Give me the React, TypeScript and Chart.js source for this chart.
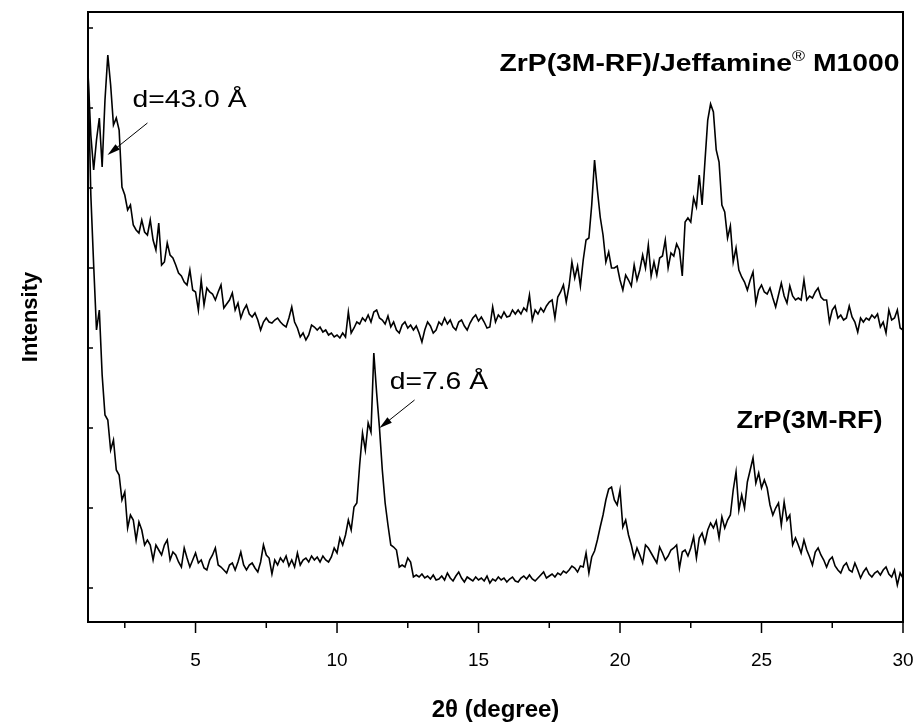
import { useEffect, useRef } from "react";
import { Chart, registerables, type Plugin } from "chart.js";

Chart.register(...registerables);
Chart.defaults.font.family = "Arial, 'Liberation Sans', sans-serif";

// scan grid of the diffractometer (2θ, degrees)
const SCAN_START = 1.2;
const SCAN_STEP = 0.1;

// ZrP(3M-RF)/Jeffamine M1000, counts (a.u.)
const jeffamineCounts = [
  515, 453, 418, 448, 470, 421, 488, 533, 503,
  463, 470, 458, 401, 393, 378, 383, 363, 358, 355,
  368, 356, 353, 368, 348, 338, 365, 323, 326, 345,
  333, 330, 323, 315, 312, 306, 303, 318, 298, 296,
  278, 308, 283, 300, 296, 294, 288, 296, 303, 280,
  284, 288, 295, 278, 285, 270, 278, 283, 274, 271,
  275, 268, 258, 266, 270, 266, 265, 268, 270, 266,
  263, 261, 270, 281, 266, 260, 251, 255, 248, 253,
  263, 261, 258, 261, 256, 258, 253, 255, 251, 253,
  250, 255, 251, 276, 255, 260, 266, 264, 270, 267,
  273, 266, 276, 278, 270, 268, 264, 272, 261, 266,
  258, 255, 263, 266, 260, 263, 258, 262, 255, 246,
  258, 266, 262, 255, 258, 266, 263, 270, 264, 268,
  261, 258, 266, 268, 262, 258, 265, 270, 273, 267,
  271, 266, 260, 261, 281, 266, 273, 270, 276, 271,
  272, 278, 274, 278, 274, 280, 277, 293, 268, 278,
  274, 280, 276, 282, 286, 288, 270, 291, 296, 303,
  286, 302, 326, 310, 322, 302, 328, 348, 350, 383,
  428, 398, 371, 353, 326, 336, 320, 320, 322, 308,
  298, 313, 308, 302, 323, 308, 318, 333, 320, 343,
  312, 326, 313, 330, 332, 348, 320, 335, 332, 344,
  338, 312, 366, 370, 366, 390, 381, 413, 383, 426,
  468, 484, 476, 438, 426, 383, 376, 350, 362, 326,
  340, 318, 311, 306, 298, 308, 316, 285, 298, 303,
  296, 294, 300, 290, 281, 293, 305, 292, 285, 302,
  292, 288, 290, 288, 308, 288, 292, 290, 296, 300,
  291, 288, 288, 266, 278, 282, 270, 273, 268, 270,
  282, 271, 266, 256, 270, 266, 270, 268, 273, 270,
  274, 261, 266, 255, 278, 268, 270, 278, 260, 258,
];

// ZrP(3M-RF), counts (a.u.)
const pristineCounts = [
  518, 393, 323, 258, 278, 213, 173, 168, 138,
  148, 118, 113, 88, 96, 60, 73, 68, 48, 66,
  58, 43, 48, 43, 28, 43, 38, 33, 43, 48,
  28, 36, 33, 26, 21, 40, 30, 21, 28, 35,
  25, 28, 20, 18, 28, 33, 40, 23, 21, 18,
  15, 23, 25, 18, 26, 36, 23, 18, 23, 25,
  20, 16, 26, 43, 33, 30, 14, 28, 23, 30,
  26, 32, 22, 28, 21, 35, 23, 28, 30, 26,
  32, 28, 31, 26, 32, 28, 26, 31, 40, 35,
  50, 43, 53, 68, 58, 81, 85, 123, 155, 138,
  165, 156, 235, 195, 160, 118, 85, 63, 43, 41,
  38, 21, 23, 21, 30, 26, 11, 13, 11, 14,
  10, 12, 9, 13, 8, 9, 12, 8, 15, 10,
  7, 12, 16, 10, 6, 11, 9, 7, 11, 8,
  10, 7, 12, 5, 9, 7, 11, 8, 10, 6,
  9, 11, 7, 6, 10, 12, 9, 13, 9, 7,
  10, 13, 16, 10, 12, 14, 11, 15, 13, 17,
  15, 18, 22, 20, 16, 22, 21, 35, 15, 31,
  37, 48, 61, 73, 88, 99, 101, 88, 83, 98,
  61, 68, 53, 43, 30, 40, 33, 25, 43, 40,
  35, 30, 25, 41, 35, 28, 32, 38, 40, 43,
  20, 36, 38, 32, 40, 51, 30, 50, 55, 45,
  58, 65, 60, 67, 50, 71, 60, 68, 73, 98,
  116, 78, 93, 80, 106, 118, 130, 105, 115, 100,
  108, 100, 83, 73, 80, 85, 63, 86, 68, 73,
  43, 50, 43, 35, 48, 38, 31, 23, 36, 40,
  33, 28, 21, 28, 31, 22, 18, 15, 22, 25,
  18, 16, 25, 18, 10, 16, 20, 14, 11, 15,
  17, 13, 18, 21, 14, 11, 18, 3, 15, 10,
];

const twoTheta = jeffamineCounts.map((_, i) => Number((SCAN_START + i * SCAN_STEP).toFixed(1)));

const xMajorTicks = [5, 10, 15, 20, 25, 30];
const xMinorTicks = [2.5, 7.5, 12.5, 17.5, 22.5, 27.5];
const yMajorTicks = [0, 80, 160, 240, 320, 400, 480, 560];

// d-spacing notes (data coordinates)
const dNotes = [
  { text: "d=43.0 Å", x: 2.77, y: 481, fromX: 3.3, fromY: 465, toX: 1.89, toY: 433 },
  { text: "d=7.6 Å", x: 11.86, y: 199, fromX: 12.74, fromY: 188, toX: 11.5, toY: 160 },
];

type Run = { text: string; font: string; dy?: number };

// the original figure's lettering is a bit wider than Arial
function drawRuns(
  ctx: CanvasRenderingContext2D,
  runs: Run[],
  x: number,
  y: number,
  align: "left" | "right",
  stretch: number,
) {
  let total = 0;
  for (const r of runs) {
    ctx.font = r.font;
    total += ctx.measureText(r.text).width;
  }
  const start = align === "right" ? x - total * stretch : x;
  ctx.save();
  ctx.translate(start, y);
  ctx.scale(stretch, 1);
  ctx.textBaseline = "alphabetic";
  ctx.textAlign = "left";
  let off = 0;
  for (const r of runs) {
    ctx.font = r.font;
    ctx.fillText(r.text, off, r.dy ?? 0);
    off += ctx.measureText(r.text).width;
  }
  ctx.restore();
}

const xrdDecor: Plugin<"line"> = {
  id: "xrdDecor",
  afterDraw(chart) {
    const { ctx, chartArea: a } = chart;
    const xs = chart.scales.x;
    const ys = chart.scales.y;
    ctx.save();
    ctx.strokeStyle = "#000";
    ctx.fillStyle = "#000";

    ctx.lineWidth = 2;
    ctx.strokeRect(a.left, a.top, a.right - a.left, a.bottom - a.top);

    ctx.lineWidth = 1.5;
    ctx.beginPath();
    for (const v of xMajorTicks) {
      const px = xs.getPixelForValue(v);
      ctx.moveTo(px, a.bottom);
      ctx.lineTo(px, a.bottom + 11);
    }
    for (const v of xMinorTicks) {
      const px = xs.getPixelForValue(v);
      ctx.moveTo(px, a.bottom);
      ctx.lineTo(px, a.bottom + 6);
    }
    for (const v of yMajorTicks) {
      const py = ys.getPixelForValue(v);
      ctx.moveTo(a.left, py);
      ctx.lineTo(a.left + 5, py);
    }
    ctx.stroke();

    // d-spacing notes with arrows
    for (const n of dNotes) {
      drawRuns(
        ctx,
        [{ text: n.text, font: "24px Arial, 'Liberation Sans', sans-serif" }],
        xs.getPixelForValue(n.x),
        ys.getPixelForValue(n.y),
        "left",
        1.18,
      );
      const x0 = xs.getPixelForValue(n.fromX);
      const y0 = ys.getPixelForValue(n.fromY);
      const x1 = xs.getPixelForValue(n.toX);
      const y1 = ys.getPixelForValue(n.toY);
      const ang = Math.atan2(y1 - y0, x1 - x0);
      ctx.lineWidth = 1;
      ctx.beginPath();
      ctx.moveTo(x0, y0);
      ctx.lineTo(x1 - 10 * Math.cos(ang), y1 - 10 * Math.sin(ang));
      ctx.stroke();
      ctx.beginPath();
      ctx.moveTo(x1, y1);
      ctx.lineTo(x1 - 13 * Math.cos(ang) + 3.5 * Math.sin(ang), y1 - 13 * Math.sin(ang) - 3.5 * Math.cos(ang));
      ctx.lineTo(x1 - 13 * Math.cos(ang) - 3.5 * Math.sin(ang), y1 - 13 * Math.sin(ang) + 3.5 * Math.cos(ang));
      ctx.closePath();
      ctx.fill();
    }

    // series labels
    const bold = "bold 24px Arial, 'Liberation Sans', sans-serif";
    drawRuns(
      ctx,
      [
        { text: "ZrP(3M-RF)/Jeffamine", font: bold },
        { text: "®", font: "15px Arial, 'Liberation Sans', sans-serif", dy: -10 },
        { text: " M1000", font: bold },
      ],
      xs.getPixelForValue(29.88),
      ys.getPixelForValue(517),
      "right",
      1.18,
    );
    drawRuns(ctx, [{ text: "ZrP(3M-RF)", font: bold }], xs.getPixelForValue(29.28), ys.getPixelForValue(160), "right", 1.13);

    ctx.restore();
  },
};

export default function App() {
  const canvasRef = useRef<HTMLCanvasElement | null>(null);

  useEffect(() => {
    const canvas = canvasRef.current;
    if (!canvas) return;

    const lineStyle = { borderColor: "#000", borderWidth: 1.6, pointRadius: 0, tension: 0, fill: false };

    const chart = new Chart(canvas, {
      type: "line",
      data: {
        datasets: [
          { label: "ZrP(3M-RF)/Jeffamine M1000", data: twoTheta.map((x, i) => ({ x, y: jeffamineCounts[i] })), ...lineStyle },
          { label: "ZrP(3M-RF)", data: twoTheta.map((x, i) => ({ x, y: pristineCounts[i] })), ...lineStyle },
        ],
      },
      options: {
        animation: false,
        responsive: true,
        maintainAspectRatio: false,
        layout: { padding: { top: 12, right: 15, left: 0, bottom: 0 } },
        plugins: { legend: { display: false }, tooltip: { enabled: false } },
        scales: {
          x: {
            type: "linear",
            min: SCAN_START,
            max: 30,
            grid: { display: false, drawTicks: false },
            border: { display: false },
            afterBuildTicks: (s) => {
              s.ticks = xMajorTicks.map((value) => ({ value }));
            },
            afterFit: (s) => {
              s.height = 106;
              s.paddingLeft = 0;
              s.paddingRight = 0;
            },
            ticks: { color: "#000", font: { size: 19 }, padding: 27, maxRotation: 0, autoSkip: false, callback: (v) => String(v) },
            title: { display: true, text: "2θ (degree)", color: "#000", font: { size: 24, weight: "bold" }, padding: 3 },
          },
          y: {
            type: "linear",
            min: -34,
            max: 576,
            grid: { display: false, drawTicks: false },
            border: { display: false },
            ticks: { display: false },
            afterFit: (s) => {
              s.width = 88;
              s.paddingTop = 0;
              s.paddingBottom = 0;
            },
            title: { display: true, text: "Intensity", color: "#000", font: { size: 22, weight: "bold" }, padding: 18 },
          },
        },
      },
      plugins: [xrdDecor],
    });

    return () => chart.destroy();
  }, []);

  return (
    <div style={{ position: "fixed", left: 0, top: 0, width: 918, height: 728, background: "#fff" }}>
      <canvas ref={canvasRef} />
    </div>
  );
}
